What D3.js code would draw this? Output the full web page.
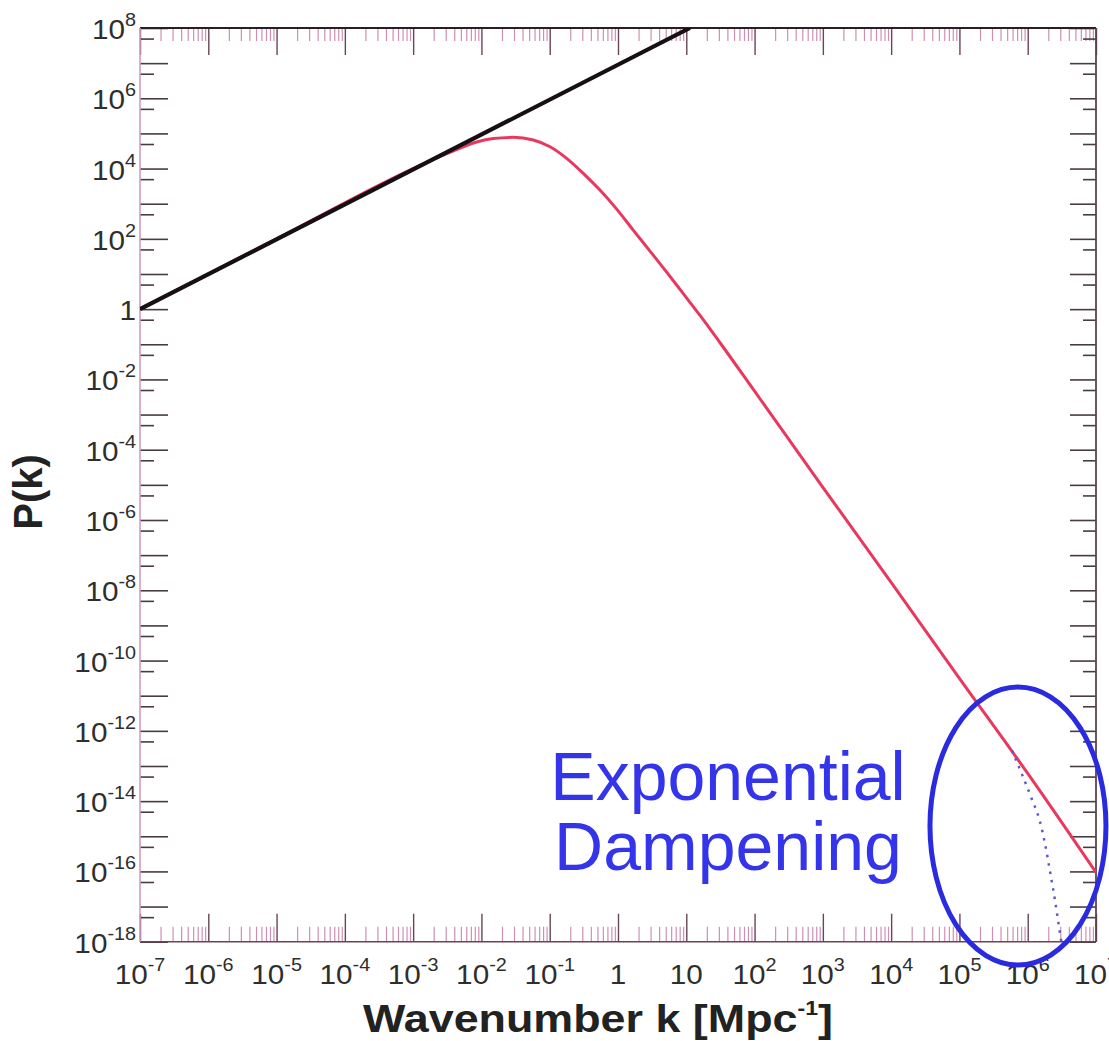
<!DOCTYPE html>
<html>
<head>
<meta charset="utf-8">
<script src="https://cdn.jsdelivr.net/npm/d3@7/dist/d3.min.js"></script>
<style>
	body{margin:0;background:#fff;}
	text{font-family:"Liberation Sans", Arial, sans-serif;}
</style>
</head>
<body>
<svg id="chart" width="1109" height="1041"></svg>
<script>

// primordial spectrum (black)
const kPrimordial = [1e-7, 11.3];
const pPrimordial = [1, 1e8];

// processed spectrum (red)
const kProcessed = [1e-7, 1e-5, 1e-3, 3.83e-3, 8.51e-3, 0.0149, 0.0292, 0.0574, 0.101, 0.177, 0.310, 0.544, 0.957, 1.67, 2.94, 5.16, 9.04, 15.8, 31.6, 100, 1e3, 1e4, 1e5, 1e6, 1e7];
const pProcessed = [1, 100, 1e4, 3.16e4, 5.68e4, 7.14e4, 7.73e4, 6.47e4, 4.17e4, 1.95e4, 7.29e3, 2.44e3, 702, 177, 44.8, 11.3, 2.75, 0.673, 0.107, 4.61e-3, 8.53e-6, 1.68e-8, 3.11e-11, 6.14e-14, 9.31e-17];

// damped tail (dotted blue)
const kDamped = [5.87e5, 8.15e5, 1.14e6, 1.51e6, 1.79e6, 2.11e6, 2.51e6, 2.90e6, 3.17e6];
const pDamped = [2.77e-13, 6.12e-14, 1.19e-14, 2.63e-15, 6.22e-16, 1.06e-16, 1.48e-17, 2.37e-18, 7.8e-19];

// tick labels (powers of ten)
const xTickExponents = [-7, -6, -5, -4, -3, -2, -1, 0, 1, 2, 3, 4, 5, 6, 7];
const yTickExponents = [8, 6, 4, 2, 0, -2, -4, -6, -8, -10, -12, -14, -16, -18];

const annotationLines = ["Exponential", "Dampening"];
const annotationCenter = {k: 7.2e5, p: 1.95e-15};

const w = 1109;
const h = 1041;
const plotLeft = 140, plotRight = 1096, plotTop = 28, plotBottom = 941.7;
const stretch = 1.1;	// the original labels look a little wide

let svg = d3.select("#chart")
			.attr("width", w)
			.attr("height", h);

svg.append("rect")
	.attr("width", w)
	.attr("height", h)
	.attr("fill", "#fff");

let x = d3.scaleLog()
			.domain([1e-7, 1e7])
			.range([plotLeft, plotRight]);

let y = d3.scaleLog()
			.domain([1e-18, 1e8])
			.range([plotBottom, plotTop]);

let xMajor = xTickExponents.map(e=>10**e);
let xMinor = [];
xTickExponents.slice(0, -1).forEach(e=>{
	for(let m=2; m<=9; m++) xMinor.push(m*10**e);
});
let yMajor = d3.range(-18, 9).map(e=>10**e);
let yMinor = d3.range(-18, 8).map(e=>5*10**e);

function cleanAxis(g, color, width){
	g.select(".domain").remove();
	g.selectAll(".tick line")
		.attr("stroke", color)
		.attr("stroke-width", width);
}

/* ***Ticks*** */
const majorColor = "#6a4458";
const minorColor = "#cf8fb4";

svg.append("g")
	.attr("transform", `translate(0,${plotBottom})`)
	.call(d3.axisBottom(x).tickValues(xMinor).tickSize(-15).tickFormat(""))
	.call(g=>cleanAxis(g, minorColor, 1.2));

svg.append("g")
	.attr("transform", `translate(0,${plotBottom})`)
	.call(d3.axisBottom(x).tickValues(xMajor).tickSize(-28).tickFormat(""))
	.call(g=>cleanAxis(g, majorColor, 1.4));

svg.append("g")
	.attr("transform", `translate(0,${plotTop})`)
	.call(d3.axisTop(x).tickValues(xMinor).tickSize(-13).tickFormat(""))
	.call(g=>cleanAxis(g, minorColor, 1.2));

svg.append("g")
	.attr("transform", `translate(0,${plotTop})`)
	.call(d3.axisTop(x).tickValues(xMajor).tickSize(-27).tickFormat(""))
	.call(g=>cleanAxis(g, majorColor, 1.4));

svg.append("g")
	.attr("transform", `translate(${plotLeft},0)`)
	.call(d3.axisLeft(y).tickValues(yMajor).tickSize(-28).tickFormat(""))
	.call(g=>cleanAxis(g, "#4a3a42", 1.6));

svg.append("g")
	.attr("transform", `translate(${plotLeft},0)`)
	.call(d3.axisLeft(y).tickValues(yMinor).tickSize(-14).tickFormat(""))
	.call(g=>cleanAxis(g, "#4a3a42", 1.6));

svg.append("g")
	.attr("transform", `translate(${plotRight},0)`)
	.call(d3.axisRight(y).tickValues(yMajor).tickSize(-26).tickFormat(""))
	.call(g=>cleanAxis(g, "#4a3a42", 1.6));

svg.append("g")
	.attr("transform", `translate(${plotRight},0)`)
	.call(d3.axisRight(y).tickValues(yMinor).tickSize(-13).tickFormat(""))
	.call(g=>cleanAxis(g, "#4a3a42", 1.6));

/* ***Frame*** */
svg.append("line").attr("x1", plotLeft).attr("x2", plotRight).attr("y1", plotTop).attr("y2", plotTop)
	.attr("stroke", "#2a1e24").attr("stroke-width", 2);
svg.append("line").attr("x1", plotLeft).attr("x2", plotRight).attr("y1", plotBottom).attr("y2", plotBottom)
	.attr("stroke", "#6a4458").attr("stroke-width", 1.6);
svg.append("line").attr("x1", plotLeft).attr("x2", plotLeft).attr("y1", plotTop).attr("y2", plotBottom)
	.attr("stroke", "#d49cc0").attr("stroke-width", 1.6);
svg.append("line").attr("x1", plotRight).attr("x2", plotRight).attr("y1", plotTop).attr("y2", plotBottom)
	.attr("stroke", "#5a4450").attr("stroke-width", 1.8);

/* ***Tick labels*** */
function powerLabel(sel, e){
	if(e === 0){ sel.append("tspan").text("1"); return; }
	if(e === 1){ sel.append("tspan").text("10"); return; }
	sel.append("tspan").text("10");
	sel.append("tspan")
		.attr("dy", -13)
		.attr("font-size", 18)
		.text(e);
}

svg.append("g")
	.selectAll("g")
	.data(xTickExponents)
	.enter()
	.append("g")
	.attr("transform", d=>`translate(${x(10**d)},984) scale(${stretch},1)`)
	.append("text")
	.attr("text-anchor", "middle")
	.attr("font-size", 27)
	.attr("fill", "#2e2e2e")
	.each(function(d){ powerLabel(d3.select(this), d); });

svg.append("g")
	.selectAll("g")
	.data(yTickExponents)
	.enter()
	.append("g")
	.attr("transform", d=>`translate(136,${y(10**d) + 11}) scale(${stretch},1)`)
	.append("text")
	.attr("text-anchor", "end")
	.attr("font-size", 27)
	.attr("fill", "#2e2e2e")
	.each(function(d){ powerLabel(d3.select(this), d); });

/* ***Axis titles*** */
svg.append("text")
	.attr("transform", "translate(42,492) rotate(-90)")
	.attr("text-anchor", "middle")
	.attr("font-size", 40)
	.attr("font-weight", "bold")
	.attr("fill", "#222")
	.text("P(k)");

let xTitle = svg.append("g")
	.attr("transform", `translate(598,1032) scale(1.15,1)`)
	.append("text")
	.attr("text-anchor", "middle")
	.attr("font-size", 39)
	.attr("font-weight", "bold")
	.attr("fill", "#222");
xTitle.append("tspan").text("Wavenumber k [Mpc");
xTitle.append("tspan").attr("dy", -17).attr("font-size", 20).text("-1");
xTitle.append("tspan").attr("dy", 17).text("]");

/* ***Curves*** */
svg.append("clipPath")
	.attr("id", "plotclip")
	.append("rect")
	.attr("x", plotLeft)
	.attr("y", plotTop)
	.attr("width", plotRight-plotLeft)
	.attr("height", plotBottom-plotTop);

let line = d3.line()
			.x(d=>x(d.k))
			.y(d=>y(d.p))
			.curve(d3.curveMonotoneX);

let processed = kProcessed.map((k,i)=>({k: k, p: pProcessed[i]}));
let primordial = kPrimordial.map((k,i)=>({k: k, p: pPrimordial[i]}));
let damped = kDamped.map((k,i)=>({k: k, p: pDamped[i]}));

let plot = svg.append("g").attr("clip-path", "url(#plotclip)");

plot.append("path")
	.datum(processed)
	.attr("d", line)
	.attr("fill", "none")
	.attr("stroke", "#e8385e")
	.attr("stroke-width", 3);

plot.append("path")
	.datum(damped)
	.attr("d", line)
	.attr("fill", "none")
	.attr("stroke", "#5a5ac8")
	.attr("stroke-width", 2.5)
	.attr("stroke-dasharray", "2.5 6");

plot.append("path")
	.datum(primordial)
	.attr("d", line)
	.attr("fill", "none")
	.attr("stroke", "#161012")
	.attr("stroke-width", 4.2);

/* ***Annotation*** */
svg.append("ellipse")
	.attr("cx", x(annotationCenter.k))
	.attr("cy", y(annotationCenter.p))
	.attr("rx", 88)
	.attr("ry", 139)
	.attr("fill", "none")
	.attr("stroke", "#2a2ade")
	.attr("stroke-width", 5);

svg.append("g")
	.selectAll("text")
	.data(annotationLines)
	.enter()
	.append("text")
	.attr("x", 728)
	.attr("y", (d,i)=>800 + i*70)
	.attr("text-anchor", "middle")
	.attr("font-size", 68)
	.attr("fill", "#3434ea")
	.text(d=>d);

</script>
</body>
</html>
